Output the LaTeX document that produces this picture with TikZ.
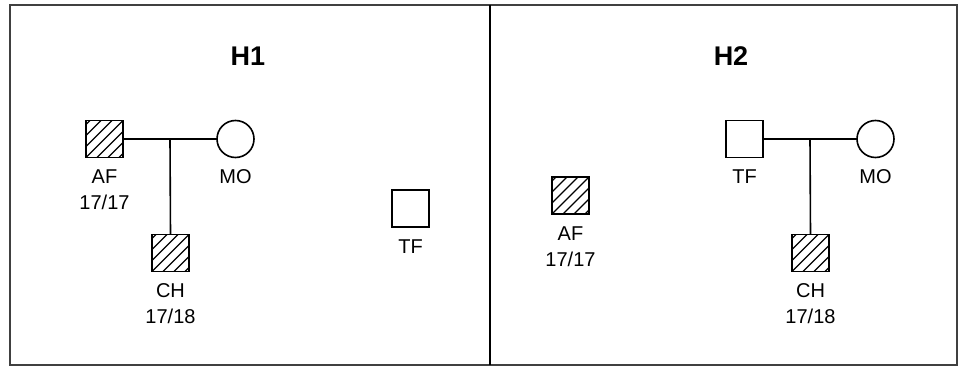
\documentclass[tikz,border=0pt]{standalone}
\usepackage{fontspec}
\setmainfont{Liberation Sans}
\usetikzlibrary{calc}
\begin{document}
\begin{tikzpicture}[x=1pt,y=-1pt,
  person/.style={draw=black,line width=1.6pt,minimum size=37pt,inner sep=0pt,outer sep=0pt},
  male/.style={person,rectangle},
  female/.style={person,circle},
  hatched/.style={path picture={
      \foreach \k in {-44,-33,...,44}
        \draw[line width=1.1pt] ([xshift=\k pt]path picture bounding box.south west) -- ++(40pt,40pt);}},
  lab/.style={font=\fontsize{20}{26}\selectfont,align=center,inner sep=0pt},
  ttl/.style={font=\fontsize{27}{30}\selectfont\bfseries,inner sep=0pt},
  link/.style={line width=1.6pt}]
\useasboundingbox (0,0) rectangle (958,366);
\draw[line width=1.2pt,black!75] (10,5) rectangle (957,365);
\draw[line width=2pt] (490,5) -- (490,365);
% H1
\node[ttl] (t1) at (248,56) {H1};
\node[male,hatched] (h1af) at (104.5,139) {};
\node[female] (h1mo) at (235.5,139) {};
\node[male,hatched] (h1ch) at (170.5,253) {};
\node[male] (h1tf) at (410.5,208.5) {};
\node[lab] (h1afl) at (104.5,190) {AF\\17/17};
\node[lab] (h1mol) at (235.5,177) {MO};
\node[lab] (h1chl) at (170.5,304) {CH\\17/18};
\node[lab] (h1tfl) at (410.5,247) {TF};
\draw[link] (h1af.east) -- (h1mo.west);
\coordinate (h1m) at ($(h1af.east)!0.5!(h1mo.west)$);
\draw[link] (h1m) -- (h1ch.north);
% H2
\node[ttl] (t2) at (731,56) {H2};
\node[male] (h2tf) at (744.5,139) {};
\node[female] (h2mo) at (875.5,139) {};
\node[male,hatched] (h2ch) at (810.5,253) {};
\node[male,hatched] (h2af) at (570.5,195.5) {};
\node[lab] (h2tfl) at (744.5,177) {TF};
\node[lab] (h2mol) at (875.5,177) {MO};
\node[lab] (h2chl) at (810.5,304) {CH\\17/18};
\node[lab] (h2afl) at (570.5,247) {AF\\17/17};
\draw[link] (h2tf.east) -- (h2mo.west);
\coordinate (h2m) at ($(h2tf.east)!0.5!(h2mo.west)$);
\draw[link] (h2m) -- (h2ch.north);
\end{tikzpicture}
\end{document}
